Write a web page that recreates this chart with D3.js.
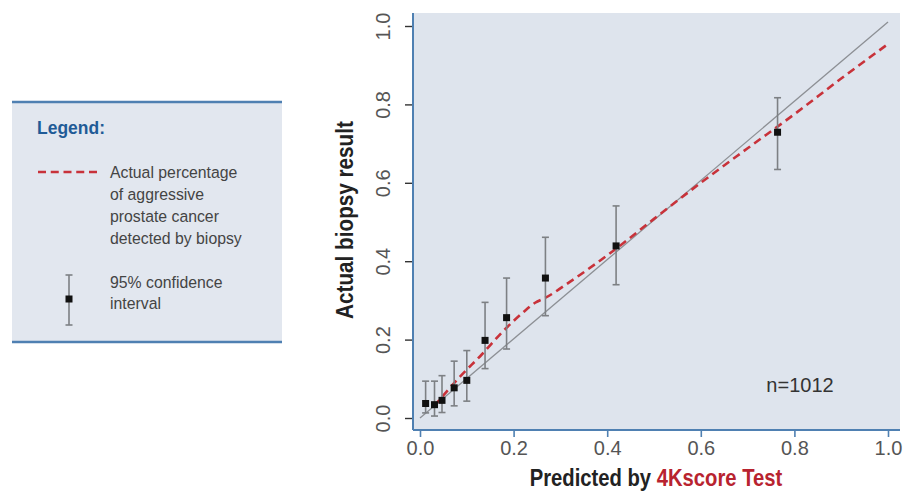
<!DOCTYPE html>
<html>
<head>
<meta charset="utf-8">
<script src="https://cdn.jsdelivr.net/npm/d3@7/dist/d3.min.js"></script>
<style>
  html, body { margin: 0; padding: 0; background: #ffffff; }
  svg { display: block; }
  .narrow { font-family: "Liberation Sans", Arial, sans-serif; }
  .tick text { font-family: "Liberation Sans", Arial, sans-serif; }
</style>
</head>
<body>
<svg id="chart" width="910" height="491"></svg>
<script>
// Predicted risk by decile group, observed rate and 95% CI
const predicted = [0.012, 0.031, 0.047, 0.073, 0.100, 0.139, 0.185, 0.268, 0.419, 0.764];
const observed  = [0.037, 0.034, 0.045, 0.077, 0.096, 0.198, 0.256, 0.357, 0.439, 0.729];
const ciLower   = [0.013, 0.005, 0.014, 0.031, 0.043, 0.126, 0.176, 0.261, 0.340, 0.634];
const ciUpper   = [0.094, 0.094, 0.108, 0.145, 0.172, 0.295, 0.357, 0.461, 0.541, 0.817];

// Smoothed calibration curve (actual vs predicted)
const curveX = [0.030, 0.085, 0.132, 0.178, 0.221, 0.246, 0.267, 0.321, 0.419, 0.500, 0.600, 0.700, 0.800, 0.900, 1.000];
const curveY = [0.030, 0.105, 0.162, 0.222, 0.270, 0.294, 0.306, 0.348, 0.432, 0.508, 0.600, 0.688, 0.775, 0.866, 0.954];

// Line of perfect agreement
const refX = [0, 1];
const refY = [0, 1.01];

const xTicks = [0, 0.2, 0.4, 0.6, 0.8, 1.0];
const yTicks = [0, 0.2, 0.4, 0.6, 0.8, 1.0];
const sampleLabel = "n=1012";

const svg = d3.select("#chart");

const x = d3.scaleLinear().domain([0, 1]).range([420, 888]);
const y = d3.scaleLinear().domain([0, 1]).range([418, 26]);

const panel = { left: 413, top: 13, right: 900, bottom: 430 };
const blue = "#4f80b2";

// condensed-looking text: squeeze horizontally
function squeezed(parent, tx, ty, sx, extra) {
  return parent.append("text")
    .attr("class", "narrow")
    .attr("transform", `translate(${tx},${ty})${extra || ""} scale(${sx},1)`);
}

// plot panel background
svg.append("rect")
  .attr("x", panel.left).attr("y", panel.top)
  .attr("width", panel.right - panel.left)
  .attr("height", panel.bottom - panel.top)
  .attr("fill", "#dee4ed");

// reference diagonal
svg.append("line")
  .attr("x1", x(refX[0])).attr("y1", y(refY[0]))
  .attr("x2", x(refX[1])).attr("y2", y(refY[1]))
  .attr("stroke", "#8c8f94").attr("stroke-width", 1.3);

// calibration curve
const curve = curveX.map((v, i) => [v, curveY[i]]);
svg.append("path")
  .datum(curve)
  .attr("d", d3.line().x(d => x(d[0])).y(d => y(d[1])).curve(d3.curveMonotoneX))
  .attr("fill", "none")
  .attr("stroke", "#c8323a")
  .attr("stroke-width", 2.6)
  .attr("stroke-dasharray", "8,5");

// error bars and points
const pts = predicted.map((p, i) => ({ p, o: observed[i], lo: ciLower[i], hi: ciUpper[i] }));
const eb = svg.append("g").attr("stroke", "#7d8084").attr("stroke-width", 1.6);
pts.forEach(d => {
  eb.append("line").attr("x1", x(d.p)).attr("x2", x(d.p)).attr("y1", y(d.lo)).attr("y2", y(d.hi));
  eb.append("line").attr("x1", x(d.p) - 3.5).attr("x2", x(d.p) + 3.5).attr("y1", y(d.lo)).attr("y2", y(d.lo));
  eb.append("line").attr("x1", x(d.p) - 3.5).attr("x2", x(d.p) + 3.5).attr("y1", y(d.hi)).attr("y2", y(d.hi));
});
svg.append("g").selectAll("rect").data(pts).join("rect")
  .attr("x", d => x(d.p) - 3.5).attr("y", d => y(d.o) - 3.5)
  .attr("width", 7).attr("height", 7)
  .attr("fill", "#111");

// axes
const xAxis = svg.append("g")
  .attr("transform", `translate(0,${panel.bottom})`)
  .call(d3.axisBottom(x).tickValues(xTicks).tickFormat(d3.format(".1f")).tickSize(7).tickPadding(4));
xAxis.select(".domain").remove();
xAxis.selectAll(".tick line").attr("stroke", blue).attr("stroke-width", 1.6);
xAxis.selectAll(".tick text").attr("fill", "#555").attr("font-size", 20);

const yAxis = svg.append("g")
  .attr("transform", `translate(${panel.left},0)`)
  .call(d3.axisLeft(y).tickValues(yTicks).tickFormat(d3.format(".1f")).tickSize(8));
yAxis.select(".domain").remove();
yAxis.selectAll(".tick line").attr("stroke", "#333").attr("stroke-width", 1.4);
yAxis.selectAll(".tick text")
  .attr("transform", "rotate(-90)")
  .attr("x", 0).attr("y", -23).attr("dy", 0)
  .attr("text-anchor", "middle")
  .attr("fill", "#555").attr("font-size", 20);

// blue axis lines
svg.append("line")
  .attr("x1", panel.left).attr("x2", panel.left)
  .attr("y1", panel.top).attr("y2", panel.bottom)
  .attr("stroke", blue).attr("stroke-width", 2);
svg.append("line")
  .attr("x1", panel.left).attr("x2", panel.right)
  .attr("y1", panel.bottom).attr("y2", panel.bottom)
  .attr("stroke", blue).attr("stroke-width", 2);

// sample size
svg.append("text")
  .attr("x", 800).attr("y", 392)
  .attr("text-anchor", "middle")
  .attr("font-family", "Liberation Sans, Arial, sans-serif")
  .attr("font-size", 20).attr("fill", "#333")
  .text(sampleLabel);

// axis titles
const xt = squeezed(svg, 656, 486, 0.88)
  .attr("text-anchor", "middle")
  .attr("font-weight", "bold").attr("font-size", 23);
xt.append("tspan").attr("fill", "#222").text("Predicted by ");
xt.append("tspan").attr("fill", "#b8232f").text("4Kscore Test");

squeezed(svg, 353, 220, 0.9, " rotate(-90)")
  .attr("text-anchor", "middle")
  .attr("font-weight", "bold").attr("font-size", 23)
  .attr("fill", "#222")
  .text("Actual biopsy result");

// legend box
const lg = svg.append("g");
lg.append("rect")
  .attr("x", 12).attr("y", 102).attr("width", 270).attr("height", 240)
  .attr("fill", "#e2e7ef");
lg.append("line").attr("x1", 12).attr("x2", 282).attr("y1", 102).attr("y2", 102)
  .attr("stroke", blue).attr("stroke-width", 2.5);
lg.append("line").attr("x1", 12).attr("x2", 282).attr("y1", 342).attr("y2", 342)
  .attr("stroke", blue).attr("stroke-width", 2.5);

squeezed(lg, 37, 134, 0.92)
  .attr("font-weight", "bold").attr("font-size", 19)
  .attr("fill", "#1f5b97")
  .text("Legend:");

lg.append("line")
  .attr("x1", 38).attr("x2", 97).attr("y1", 172).attr("y2", 172)
  .attr("stroke", "#c8323a").attr("stroke-width", 2.6)
  .attr("stroke-dasharray", "8,4.75");

const lines1 = ["Actual percentage", "of aggressive", "prostate cancer", "detected by biopsy"];
lines1.forEach((t, i) => {
  squeezed(lg, 110, 178 + i * 22, 0.93)
    .attr("font-size", 17).attr("fill", "#444")
    .text(t);
});

lg.append("line").attr("x1", 69).attr("x2", 69).attr("y1", 275).attr("y2", 325)
  .attr("stroke", "#7d8084").attr("stroke-width", 1.6);
lg.append("line").attr("x1", 65.5).attr("x2", 72.5).attr("y1", 275).attr("y2", 275)
  .attr("stroke", "#7d8084").attr("stroke-width", 1.6);
lg.append("line").attr("x1", 65.5).attr("x2", 72.5).attr("y1", 325).attr("y2", 325)
  .attr("stroke", "#7d8084").attr("stroke-width", 1.6);
lg.append("rect").attr("x", 65.5).attr("y", 295.5).attr("width", 7).attr("height", 7).attr("fill", "#111");

const lines2 = ["95% confidence", "interval"];
lines2.forEach((t, i) => {
  squeezed(lg, 110, 288 + i * 21, 0.93)
    .attr("font-size", 17).attr("fill", "#444")
    .text(t);
});
</script>
</body>
</html>
